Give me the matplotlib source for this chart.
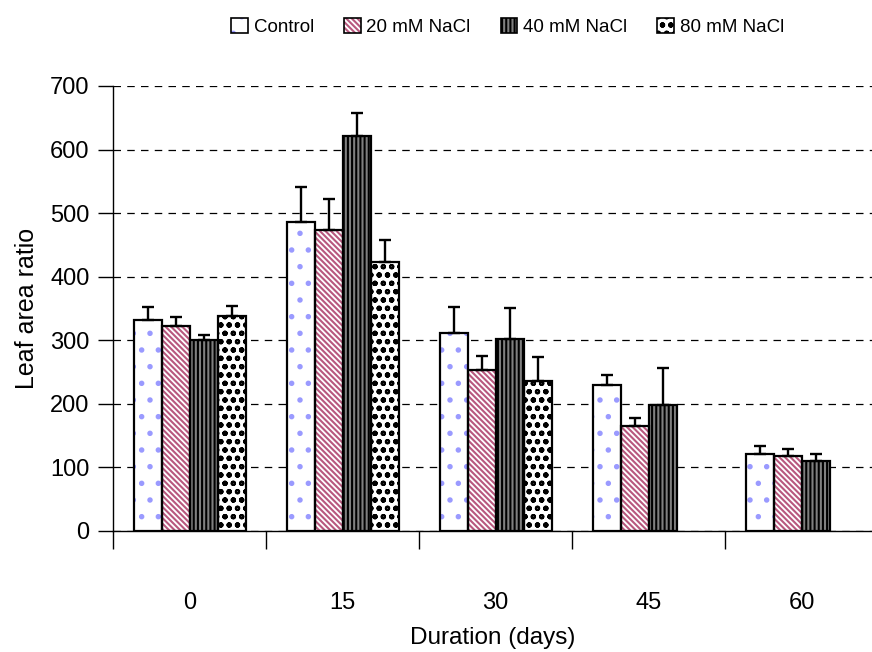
import numpy as np
import matplotlib
matplotlib.use('Agg')
import matplotlib.pyplot as plt
from matplotlib.patches import Patch
from matplotlib.legend_handler import HandlerTuple

plt.rcParams['font.family'] = ['Liberation Sans', 'DejaVu Sans']
plt.rcParams['hatch.linewidth'] = 1.5

days = ['0', '15', '30', '45', '60']
series = ['Control', '20 mM NaCl', '40 mM NaCl', '80 mM NaCl']
control = [332, 486, 312, 229, 121]
control_err = [20, 55, 41, 16, 13]
nacl20 = [323, 473, 253, 165, 118]
nacl20_err = [13, 50, 23, 13, 11]
nacl40 = [300, 622, 302, 198, 110]
nacl40_err = [9, 36, 49, 58, 11]
nacl80 = [338, 423, 236, np.nan, np.nan]
nacl80_err = [16, 34, 38, np.nan, np.nan]

values = [control, nacl20, nacl40, nacl80]
errors = [control_err, nacl20_err, nacl40_err, nacl80_err]
# (facecolor, hatch, hatch colour)
styles = [('white', '.', '#9a9aff'),
          ('white', '\\\\\\\\\\\\', '#b8587e'),
          ('#808080', '||||', 'black'),
          ('white', 'oo', 'black')]

fig = plt.figure(figsize=(8.72, 6.52), dpi=100)
ax = fig.add_axes([0.1296, 0.1856, 0.8704, 0.6825])

x = np.arange(len(days))
w = 0.183
handles = []
for i, (vals, errs) in enumerate(zip(values, errors)):
    fc, hatch, hc = styles[i]
    pos = x + (i - 1.5) * w
    ax.bar(pos, vals, w, color=fc, hatch=hatch, edgecolor=hc, linewidth=0, zorder=3)
    ax.bar(pos, vals, w, fill=False, edgecolor='black', linewidth=1.6, zorder=4)
    e = np.array(errs, dtype=float)
    ax.errorbar(pos, vals, yerr=[np.zeros_like(e), e], fmt='none', ecolor='black',
                elinewidth=1.7, capsize=4.5, capthick=1.7, zorder=5)
    h1 = Patch(facecolor=fc, hatch=hatch, edgecolor=hc, linewidth=0)
    h2 = Patch(fill=False, edgecolor='black', linewidth=1.2)
    handles.append((h1, h2))

ax.set_ylim(0, 700)
ax.set_xlim(-0.5, 4.46)
ax.set_yticks(range(0, 701, 100))
ax.yaxis.grid(True, linestyle=(0, (6, 5)), color='black', linewidth=0.9, zorder=0)
ax.set_axisbelow(True)
for s in ['top', 'right']:
    ax.spines[s].set_visible(False)
ax.spines['left'].set_linewidth(1)
ax.spines['bottom'].set_linewidth(1)

ax.set_xticks(x)
ax.set_xticklabels(days)
ax.set_xticks(np.arange(-0.5, 4.5, 1), minor=True)
ax.tick_params(axis='x', which='major', length=0, pad=44, labelsize=17)
ax.tick_params(axis='x', which='minor', length=13, width=1, direction='out')
ax.tick_params(axis='y', length=11, width=1, labelsize=17, pad=6)

ax.set_xlabel('Duration (days)', fontsize=17.5, labelpad=9)
ax.set_ylabel('Leaf area ratio', fontsize=18, labelpad=8)

fig.legend(handles, series, handler_map={tuple: HandlerTuple(ndivide=1, pad=0)},
           loc='center', bbox_to_anchor=(0.582, 0.959), ncol=4, frameon=False,
           fontsize=13.5, handlelength=0.9, handleheight=0.9, handletextpad=0.3,
           columnspacing=1.6)

fig.savefig('out.png', dpi=100)
